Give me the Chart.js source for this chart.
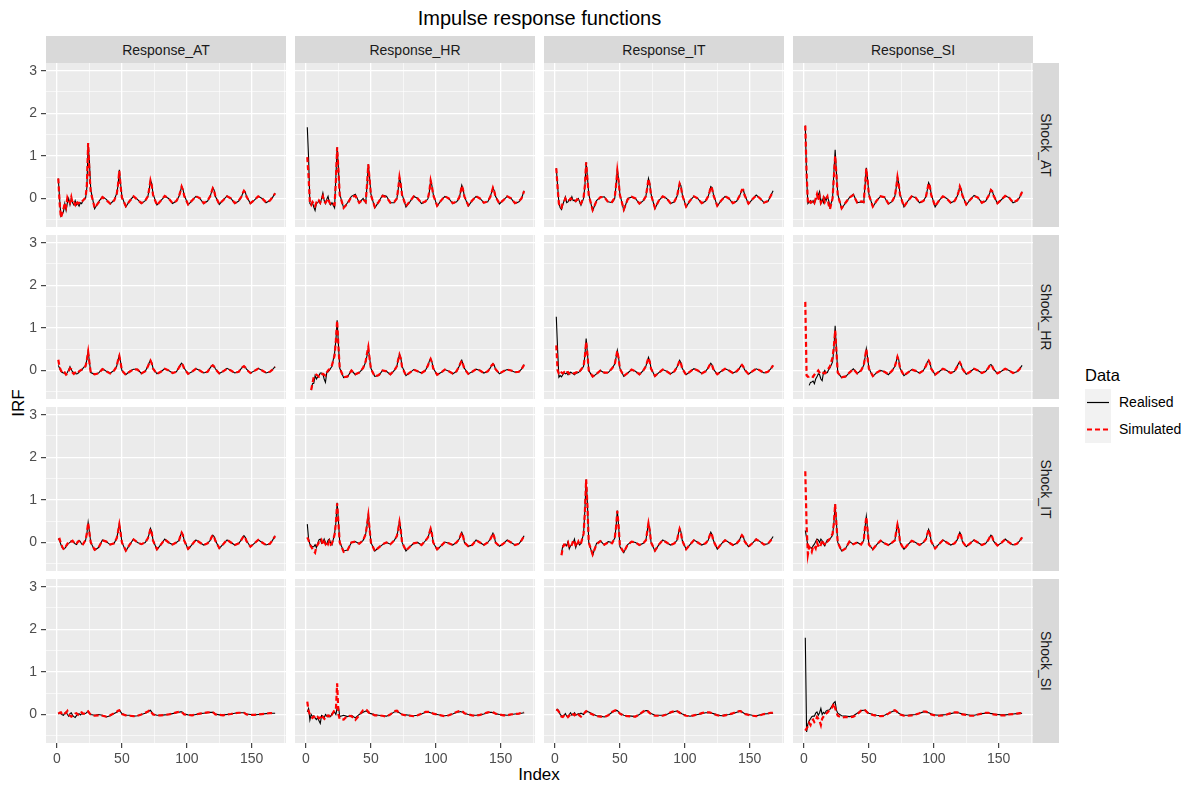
<!DOCTYPE html>
<html lang="en">
<head>
<meta charset="UTF-8">
<title>Impulse response functions</title>
<script src="https://cdn.jsdelivr.net/npm/chart.js"></script>
<style>
  body { margin:0; background:#fff; font-family:"Liberation Sans", Arial, sans-serif; }
  #page { position:relative; width:1187px; height:787px; overflow:hidden; }
  #page canvas { position:absolute; }
  .strip { position:absolute; background:#D9D9D9; color:#1A1A1A; font-size:14px;
           display:flex; align-items:center; justify-content:center; }
  .strip.side span { transform:rotate(90deg); white-space:nowrap; }
  .txt { position:absolute; white-space:nowrap; color:#000; }
</style>
</head>
<body>
<div id="page">
  <div class="txt" style="left:46px;width:987px;top:5px;line-height:26px;font-size:20px;text-align:center;">Impulse response functions</div>
  <div class="txt" style="left:-11px;top:393px;width:60px;height:20px;line-height:20px;font-size:17px;text-align:center;transform:rotate(-90deg);">IRF</div>
  <div class="txt" style="left:439px;top:765px;width:200px;line-height:20px;font-size:17px;text-align:center;">Index</div>

  <div class="txt" style="left:1085px;top:364px;line-height:22px;font-size:16.5px;">Data</div>
  <svg style="position:absolute;left:1085px;top:389px;" width="26" height="54">
    <rect x="0" y="0" width="26" height="54" fill="#F2F2F2"/>
    <line x1="2" y1="13.5" x2="24" y2="13.5" stroke="#000" stroke-width="1.2"/>
    <line x1="2" y1="40.5" x2="24" y2="40.5" stroke="#FF0000" stroke-width="2.2" stroke-dasharray="5 3"/>
  </svg>
  <div class="txt" style="left:1119px;top:393px;line-height:18px;font-size:14px;">Realised</div>
  <div class="txt" style="left:1119px;top:420px;line-height:18px;font-size:14px;">Simulated</div>
</div>

<script>
// index positions where each IRF is sampled (hours after the shock)
const index_steps = [
  1,2,3,4,5,6,7,8,9,10,11,12,13,14,15,16,17,18,19,20,
  22,23,24,25,26,29,32,35,38,41,44,
  46,47,48,49,50,53,56,59,62,65,68,
  70,71,72,73,74,77,80,83,86,89,92,
  94,95,96,97,98,101,104,107,110,113,116,
  118,119,120,121,122,125,128,131,134,137,140,
  142,143,144,145,146,149,152,155,158,161,164,
  166,168
];

const responses = ['Response_AT', 'Response_HR', 'Response_IT', 'Response_SI'];
const shocks = ['Shock_AT', 'Shock_HR', 'Shock_IT', 'Shock_SI'];

const y_ticks = [-0.5, 0, 0.5, 1, 1.5, 2, 2.5, 3];
const x_ticks = [0, 25, 50, 75, 100, 125, 150, 175];

// series naming: <realised|simulated>_<shock>_<response>

// ---- Shock_AT ----
const realised_AT_AT = [
  0.47,0.0,-0.42,-0.38,-0.3,-0.12,-0.28,-0.1,0.0,-0.15,0.0,-0.1,-0.15,-0.05,-0.15,-0.12,-0.18,-0.1,-0.12,-0.05,
  0.0,0.25,1.3,0.85,0.2,-0.24,-0.08,0.04,-0.02,-0.13,-0.04,
  0.12,0.3,0.67,0.35,0.05,-0.2,-0.05,0.05,-0.02,-0.12,-0.05,
  0.05,0.2,0.43,0.35,0.1,-0.15,-0.05,0.05,0.0,-0.12,-0.06,
  0.05,0.15,0.29,0.22,0.08,-0.15,-0.05,0.05,0.0,-0.12,-0.06,
  0.05,0.15,0.25,0.2,0.05,-0.14,-0.04,0.06,0.0,-0.12,-0.06,
  0.03,0.12,0.18,0.15,0.05,-0.12,-0.04,0.05,0.0,-0.1,-0.05,
  0.02,0.13
];
const simulated_AT_AT = [
  0.47,-0.1,-0.45,-0.35,-0.25,-0.1,-0.2,0.02,-0.05,-0.1,0.03,-0.12,-0.1,-0.15,-0.05,-0.12,-0.1,-0.12,-0.08,-0.05,
  0.02,0.3,1.3,0.6,0.15,-0.22,-0.1,0.03,-0.04,-0.12,-0.05,
  0.1,0.32,0.65,0.3,0.02,-0.18,-0.06,0.05,-0.03,-0.11,-0.05,
  0.05,0.22,0.42,0.3,0.08,-0.16,-0.05,0.06,0.0,-0.11,-0.06,
  0.06,0.16,0.28,0.2,0.06,-0.14,-0.05,0.05,0.01,-0.11,-0.05,
  0.05,0.15,0.24,0.18,0.05,-0.13,-0.04,0.05,0.0,-0.11,-0.05,
  0.04,0.12,0.18,0.14,0.04,-0.11,-0.04,0.05,0.0,-0.09,-0.05,
  0.03,0.12
];
const realised_AT_HR = [
  1.67,0.95,-0.12,-0.15,-0.1,-0.2,-0.28,-0.12,-0.1,-0.05,-0.12,0.0,0.13,-0.05,-0.12,-0.02,0.05,-0.1,-0.15,-0.1,
  -0.22,0.5,1.2,0.7,0.1,-0.22,-0.1,0.05,0.1,-0.1,0.0,
  -0.1,0.3,0.8,0.5,0.1,-0.22,-0.08,0.08,0.05,-0.1,-0.1,
  0.0,0.2,0.5,0.35,0.1,-0.2,-0.08,0.05,0.0,-0.12,-0.08,
  0.0,0.15,0.43,0.3,0.1,-0.18,-0.05,0.05,0.0,-0.12,-0.08,
  0.0,0.15,0.31,0.22,0.05,-0.18,-0.05,0.05,0.0,-0.1,-0.08,
  0.05,0.15,0.25,0.18,0.05,-0.13,-0.04,0.05,0.0,-0.12,-0.08,
  0.0,0.18
];
const simulated_AT_HR = [
  0.97,0.5,-0.1,-0.15,-0.08,-0.12,-0.18,-0.1,-0.12,-0.05,-0.1,-0.02,0.05,-0.08,-0.1,-0.05,0.0,-0.08,-0.15,-0.12,
  -0.15,0.4,1.2,0.65,0.08,-0.22,-0.12,0.04,0.06,-0.1,-0.02,
  -0.08,0.32,0.8,0.45,0.08,-0.2,-0.08,0.06,0.03,-0.1,-0.08,
  0.0,0.22,0.5,0.32,0.08,-0.18,-0.07,0.05,0.0,-0.11,-0.07,
  0.02,0.16,0.42,0.28,0.08,-0.17,-0.05,0.05,0.0,-0.11,-0.07,
  0.02,0.14,0.3,0.2,0.05,-0.16,-0.05,0.05,0.0,-0.1,-0.07,
  0.04,0.14,0.25,0.17,0.04,-0.12,-0.04,0.05,0.0,-0.11,-0.07,
  0.0,0.17
];
const realised_AT_IT = [
  0.71,0.3,-0.1,-0.22,-0.26,-0.15,-0.05,0.04,-0.1,-0.08,-0.02,-0.05,0.04,-0.05,-0.04,-0.08,-0.03,0.0,-0.08,-0.16,
  0.0,0.28,0.85,0.5,0.1,-0.29,-0.05,0.03,0.04,-0.08,-0.1,
  0.0,0.3,0.67,0.45,0.1,-0.28,0.0,0.03,0.0,-0.13,-0.05,
  0.05,0.25,0.47,0.35,0.1,-0.24,-0.05,0.05,0.0,-0.12,-0.08,
  0.05,0.2,0.35,0.3,0.1,-0.2,-0.05,0.05,0.0,-0.12,-0.06,
  0.05,0.15,0.28,0.25,0.1,-0.18,-0.05,0.05,0.0,-0.12,-0.06,
  0.05,0.12,0.2,0.21,0.1,-0.13,-0.02,0.08,0.0,-0.1,-0.07,
  0.05,0.18
];
const simulated_AT_IT = [
  0.71,0.25,-0.12,-0.2,-0.22,-0.1,-0.08,0.0,-0.06,-0.05,-0.04,0.0,-0.02,-0.06,-0.05,-0.06,-0.02,-0.04,-0.1,-0.12,
  0.02,0.3,0.85,0.45,0.08,-0.27,-0.06,0.03,0.03,-0.09,-0.08,
  0.02,0.3,0.65,0.4,0.08,-0.26,-0.02,0.04,0.0,-0.12,-0.05,
  0.05,0.24,0.46,0.32,0.08,-0.22,-0.05,0.05,0.0,-0.11,-0.07,
  0.05,0.2,0.35,0.28,0.08,-0.19,-0.05,0.05,0.0,-0.11,-0.06,
  0.05,0.15,0.28,0.23,0.08,-0.17,-0.05,0.05,0.0,-0.11,-0.06,
  0.05,0.12,0.2,0.2,0.08,-0.12,-0.02,0.07,0.0,-0.1,-0.06,
  0.05,0.17
];
const realised_AT_SI = [
  1.71,0.5,-0.12,-0.08,-0.05,-0.1,-0.05,-0.12,-0.02,0.0,0.08,0.16,-0.12,-0.02,-0.1,0.02,-0.05,0.05,-0.05,-0.2,
  0.0,0.6,1.14,0.6,0.1,-0.24,-0.1,0.02,0.1,-0.1,-0.08,
  -0.1,0.3,0.72,0.45,0.1,-0.2,-0.05,0.05,0.03,-0.13,-0.07,
  0.05,0.25,0.51,0.35,0.1,-0.2,-0.06,0.05,0.02,-0.1,-0.06,
  0.05,0.2,0.37,0.3,0.1,-0.2,-0.05,0.05,0.0,-0.1,-0.06,
  0.05,0.15,0.29,0.22,0.08,-0.15,-0.03,0.07,0.02,-0.1,-0.06,
  0.05,0.12,0.21,0.18,0.08,-0.12,-0.03,0.06,0.02,-0.1,-0.06,
  0.02,0.16
];
const simulated_AT_SI = [
  1.71,0.6,-0.1,-0.05,-0.1,-0.08,-0.05,-0.1,0.0,0.1,-0.05,0.05,-0.1,-0.05,0.02,-0.08,0.0,0.05,-0.15,-0.25,
  0.0,0.5,1.0,0.55,0.08,-0.23,-0.1,0.02,0.08,-0.1,-0.07,
  -0.08,0.3,0.7,0.42,0.08,-0.19,-0.05,0.05,0.03,-0.12,-0.06,
  0.05,0.25,0.5,0.32,0.08,-0.19,-0.06,0.05,0.02,-0.1,-0.06,
  0.05,0.2,0.36,0.28,0.08,-0.18,-0.05,0.05,0.0,-0.1,-0.06,
  0.05,0.15,0.28,0.2,0.07,-0.14,-0.03,0.06,0.02,-0.1,-0.05,
  0.05,0.12,0.2,0.17,0.07,-0.11,-0.03,0.06,0.02,-0.09,-0.05,
  0.02,0.15
];

// ---- Shock_HR ----
const realised_HR_AT = [
  0.12,0.05,-0.02,-0.05,-0.06,-0.07,-0.09,-0.05,0.02,0.09,0.02,-0.03,-0.05,-0.07,-0.08,-0.07,-0.04,0.0,0.0,0.05,
  0.12,0.25,0.45,0.2,-0.05,-0.09,-0.06,0.04,-0.02,-0.06,0.0,
  0.1,0.25,0.35,0.2,0.0,-0.1,-0.02,0.03,0.03,-0.07,-0.02,
  0.1,0.18,0.24,0.18,0.05,-0.08,-0.03,0.04,0.0,-0.06,-0.03,
  0.08,0.13,0.17,0.13,0.05,-0.08,-0.03,0.04,0.0,-0.06,-0.03,
  0.06,0.1,0.13,0.1,0.04,-0.07,-0.02,0.05,0.0,-0.06,-0.03,
  0.05,0.08,0.1,0.08,0.03,-0.06,-0.01,0.05,0.0,-0.06,-0.03,
  0.02,0.09
];
const simulated_HR_AT = [
  0.25,0.08,0.0,-0.04,-0.08,-0.05,-0.1,-0.08,-0.02,0.05,0.03,-0.05,-0.08,-0.05,-0.07,-0.06,-0.02,0.0,0.02,0.04,
  0.1,0.25,0.44,0.18,-0.05,-0.09,-0.07,0.03,-0.02,-0.07,0.0,
  0.1,0.24,0.34,0.18,0.0,-0.1,-0.03,0.03,0.02,-0.07,-0.02,
  0.09,0.17,0.23,0.16,0.04,-0.08,-0.03,0.04,0.0,-0.06,-0.03,
  0.07,0.12,0.16,0.12,0.04,-0.08,-0.03,0.04,0.0,-0.06,-0.03,
  0.06,0.1,0.12,0.09,0.03,-0.07,-0.02,0.04,0.0,-0.06,-0.03,
  0.05,0.08,0.1,0.07,0.02,-0.06,-0.01,0.04,0.0,-0.05,-0.03,
  0.02,0.08
];
const realised_HR_HR = [
  null,null,null,-0.46,-0.31,-0.3,-0.12,-0.2,-0.15,-0.12,-0.06,-0.06,-0.08,-0.2,-0.28,-0.05,-0.03,0.0,0.05,0.1,
  0.4,0.7,1.18,0.6,0.05,-0.17,-0.15,0.0,-0.1,-0.05,0.05,
  0.2,0.35,0.51,0.3,0.05,-0.14,-0.12,0.0,-0.02,-0.1,0.0,
  0.1,0.25,0.38,0.3,0.1,-0.12,-0.05,0.02,-0.02,-0.06,0.0,
  0.12,0.22,0.28,0.2,0.05,-0.1,-0.05,0.02,-0.02,-0.08,-0.02,
  0.1,0.18,0.24,0.15,0.05,-0.08,-0.03,0.03,0.0,-0.06,-0.02,
  0.06,0.12,0.16,0.12,0.03,-0.08,-0.02,0.02,0.0,-0.04,-0.03,
  0.03,0.14
];
const simulated_HR_HR = [
  null,null,null,-0.46,-0.3,-0.15,-0.14,-0.1,-0.12,-0.15,-0.15,-0.1,-0.08,-0.1,-0.12,-0.05,0.0,0.03,0.08,0.12,
  0.35,0.7,1.17,0.55,0.05,-0.16,-0.14,0.0,-0.09,-0.05,0.06,
  0.22,0.4,0.55,0.28,0.04,-0.14,-0.11,0.0,-0.02,-0.09,0.0,
  0.1,0.25,0.37,0.28,0.08,-0.12,-0.05,0.02,-0.02,-0.06,0.0,
  0.12,0.21,0.27,0.19,0.05,-0.1,-0.05,0.02,-0.02,-0.07,-0.02,
  0.1,0.17,0.23,0.14,0.04,-0.08,-0.03,0.03,0.0,-0.06,-0.02,
  0.06,0.12,0.15,0.11,0.03,-0.07,-0.02,0.02,0.0,-0.04,-0.03,
  0.03,0.13
];
const realised_HR_IT = [
  1.26,0.5,-0.16,-0.12,-0.15,-0.1,-0.05,-0.08,-0.06,-0.1,-0.05,-0.04,-0.06,-0.08,-0.1,-0.07,-0.06,-0.05,-0.02,0.0,
  0.1,0.35,0.75,0.4,0.0,-0.15,-0.08,0.0,-0.06,-0.05,0.05,
  0.15,0.3,0.47,0.3,0.05,-0.14,-0.06,0.02,-0.02,-0.1,0.0,
  0.1,0.2,0.31,0.22,0.05,-0.14,-0.05,0.02,-0.02,-0.08,-0.02,
  0.08,0.16,0.24,0.18,0.05,-0.1,-0.03,0.04,0.0,-0.07,-0.02,
  0.06,0.12,0.17,0.13,0.03,-0.09,-0.02,0.04,0.0,-0.06,-0.02,
  0.05,0.1,0.13,0.1,0.02,-0.09,-0.02,0.04,0.0,-0.06,-0.03,
  0.03,0.12
];
const simulated_HR_IT = [
  0.59,0.0,-0.08,-0.1,-0.05,-0.07,-0.04,-0.08,-0.05,-0.04,-0.08,-0.06,-0.04,-0.06,-0.07,-0.05,-0.04,-0.06,-0.02,0.02,
  0.1,0.32,0.67,0.38,0.0,-0.14,-0.08,0.0,-0.05,-0.05,0.05,
  0.14,0.3,0.46,0.28,0.04,-0.13,-0.06,0.02,-0.02,-0.09,0.0,
  0.1,0.2,0.3,0.2,0.04,-0.13,-0.05,0.02,-0.02,-0.08,-0.02,
  0.08,0.15,0.23,0.17,0.04,-0.1,-0.03,0.04,0.0,-0.07,-0.02,
  0.06,0.12,0.16,0.12,0.03,-0.09,-0.02,0.04,0.0,-0.06,-0.02,
  0.05,0.1,0.13,0.09,0.02,-0.08,-0.02,0.04,0.0,-0.06,-0.03,
  0.03,0.12
];
const realised_HR_SI = [
  null,null,null,-0.35,-0.28,-0.27,-0.25,-0.31,-0.2,-0.15,-0.08,-0.1,-0.2,-0.24,-0.05,0.0,-0.06,-0.05,0.02,0.06,
  0.2,0.5,1.05,0.5,-0.05,-0.17,-0.15,-0.05,0.04,-0.07,0.0,
  0.12,0.3,0.51,0.3,0.05,-0.14,-0.05,0.0,-0.03,-0.1,0.0,
  0.1,0.2,0.33,0.25,0.05,-0.12,-0.05,0.02,-0.01,-0.06,0.0,
  0.12,0.2,0.24,0.18,0.05,-0.1,-0.03,0.04,0.0,-0.06,-0.02,
  0.1,0.16,0.2,0.14,0.04,-0.09,-0.03,0.04,0.0,-0.06,-0.02,
  0.06,0.12,0.14,0.1,0.03,-0.07,-0.02,0.04,0.0,-0.06,-0.03,
  0.03,0.12
];
const simulated_HR_SI = [
  1.61,-0.12,-0.15,-0.14,-0.12,-0.14,-0.15,-0.1,-0.06,-0.04,0.0,-0.05,-0.08,-0.05,-0.06,-0.07,-0.03,0.02,0.05,0.1,
  0.3,0.55,0.94,0.45,-0.05,-0.16,-0.14,-0.05,0.03,-0.07,0.0,
  0.12,0.3,0.5,0.28,0.04,-0.13,-0.05,0.0,-0.03,-0.09,0.0,
  0.1,0.2,0.32,0.23,0.05,-0.12,-0.05,0.02,-0.01,-0.06,0.0,
  0.11,0.19,0.23,0.17,0.04,-0.1,-0.03,0.04,0.0,-0.06,-0.02,
  0.09,0.15,0.19,0.13,0.04,-0.09,-0.03,0.04,0.0,-0.06,-0.02,
  0.06,0.11,0.14,0.1,0.03,-0.07,-0.02,0.04,0.0,-0.06,-0.03,
  0.03,0.12
];

// ---- Shock_IT ----
const realised_IT_AT = [
  0.09,0.05,-0.05,-0.12,-0.16,-0.14,-0.1,-0.05,-0.02,0.0,0.04,0.02,0.0,-0.03,-0.05,0.0,0.05,0.02,-0.04,-0.05,
  0.05,0.2,0.47,0.25,0.0,-0.18,-0.12,0.06,0.02,-0.05,-0.02,
  0.1,0.25,0.43,0.25,0.0,-0.2,-0.05,0.08,0.0,-0.04,0.0,
  0.1,0.2,0.33,0.25,0.05,-0.17,-0.05,0.08,0.0,-0.05,0.0,
  0.05,0.15,0.24,0.18,0.05,-0.16,-0.05,0.06,0.0,-0.06,-0.02,
  0.05,0.12,0.17,0.14,0.05,-0.14,-0.04,0.06,0.0,-0.06,-0.02,
  0.06,0.12,0.16,0.12,0.04,-0.1,-0.02,0.06,0.0,-0.06,-0.03,
  0.05,0.16
];
const simulated_IT_AT = [
  0.06,0.08,-0.02,-0.1,-0.15,-0.16,-0.08,-0.03,0.02,0.03,0.02,0.04,0.0,-0.02,-0.04,0.02,0.03,0.0,-0.02,-0.04,
  0.05,0.22,0.46,0.22,0.0,-0.17,-0.12,0.05,0.02,-0.05,-0.02,
  0.1,0.25,0.42,0.22,0.0,-0.19,-0.05,0.07,0.0,-0.04,0.0,
  0.1,0.2,0.32,0.22,0.04,-0.16,-0.05,0.07,0.0,-0.05,0.0,
  0.05,0.15,0.23,0.17,0.04,-0.15,-0.05,0.06,0.0,-0.06,-0.02,
  0.05,0.12,0.17,0.13,0.04,-0.13,-0.04,0.06,0.0,-0.06,-0.02,
  0.06,0.11,0.15,0.11,0.03,-0.1,-0.02,0.06,0.0,-0.06,-0.03,
  0.05,0.15
];
const realised_IT_HR = [
  0.43,0.08,-0.04,-0.08,-0.1,-0.1,-0.05,-0.12,-0.02,0.06,0.08,-0.02,0.0,0.08,0.0,-0.04,0.05,0.08,-0.02,-0.06,
  0.2,0.45,0.93,0.5,0.0,-0.2,-0.18,0.0,0.02,-0.03,0.05,
  0.2,0.4,0.65,0.35,0.0,-0.2,-0.12,-0.05,0.0,-0.04,0.05,
  0.15,0.3,0.49,0.3,0.0,-0.2,-0.1,-0.02,0.0,-0.06,0.04,
  0.12,0.22,0.33,0.22,0.0,-0.17,-0.08,0.01,-0.02,-0.06,0.0,
  0.08,0.16,0.24,0.16,0.0,-0.09,-0.06,0.06,0.0,-0.06,0.0,
  0.08,0.15,0.22,0.14,0.0,-0.09,-0.03,0.06,0.0,-0.06,-0.03,
  0.05,0.16
];
const simulated_IT_HR = [
  0.12,0.05,-0.05,-0.1,-0.15,-0.2,-0.24,-0.1,-0.05,0.0,-0.02,0.05,-0.05,0.02,-0.04,0.02,-0.04,0.03,-0.05,-0.02,
  0.18,0.45,0.92,0.45,0.0,-0.22,-0.18,0.0,0.02,-0.03,0.05,
  0.2,0.42,0.64,0.32,0.0,-0.2,-0.12,-0.04,0.0,-0.04,0.05,
  0.15,0.3,0.48,0.28,0.0,-0.19,-0.1,-0.02,0.0,-0.06,0.04,
  0.12,0.22,0.32,0.2,0.0,-0.16,-0.08,0.01,-0.02,-0.06,0.0,
  0.08,0.16,0.23,0.15,0.0,-0.09,-0.06,0.05,0.0,-0.06,0.0,
  0.08,0.14,0.21,0.13,0.0,-0.09,-0.03,0.05,0.0,-0.06,-0.03,
  0.05,0.15
];
const realised_IT_IT = [
  null,null,null,null,-0.25,-0.08,-0.05,-0.04,-0.08,0.02,-0.15,-0.08,-0.06,0.0,0.08,-0.12,-0.02,0.0,-0.06,-0.02,
  0.2,0.75,1.48,0.9,0.0,-0.3,-0.02,0.04,-0.06,0.02,0.0,
  0.1,0.35,0.75,0.4,-0.1,-0.24,-0.05,0.02,0.0,-0.06,-0.02,
  0.05,0.25,0.46,0.3,0.0,-0.2,-0.05,0.06,0.0,-0.06,-0.02,
  0.05,0.2,0.33,0.25,0.05,-0.16,-0.05,0.06,0.0,-0.06,-0.02,
  0.05,0.15,0.24,0.18,0.05,-0.16,-0.04,0.06,0.0,-0.06,-0.02,
  0.05,0.12,0.17,0.14,0.04,-0.1,-0.02,0.08,0.02,-0.05,-0.03,
  0.04,0.14
];
const simulated_IT_IT = [
  null,null,null,null,-0.3,-0.12,-0.05,-0.06,-0.04,0.0,-0.12,-0.1,-0.05,0.04,0.05,-0.1,-0.05,0.02,-0.05,-0.02,
  0.2,0.7,1.48,0.85,0.0,-0.28,-0.04,0.03,-0.05,0.0,-0.02,
  0.1,0.35,0.74,0.38,-0.08,-0.23,-0.05,0.02,0.0,-0.06,-0.02,
  0.05,0.25,0.45,0.28,0.0,-0.19,-0.05,0.05,0.0,-0.06,-0.02,
  0.05,0.2,0.32,0.23,0.04,-0.16,-0.05,0.05,0.0,-0.06,-0.02,
  0.05,0.15,0.23,0.17,0.04,-0.15,-0.04,0.05,0.0,-0.06,-0.02,
  0.05,0.12,0.17,0.13,0.03,-0.1,-0.02,0.07,0.02,-0.05,-0.03,
  0.04,0.13
];
const realised_IT_SI = [
  0.28,0.1,-0.08,-0.1,-0.12,-0.14,-0.08,-0.04,0.02,0.08,0.06,0.0,0.08,0.04,-0.04,-0.08,0.0,0.06,0.04,0.08,
  0.17,0.45,0.9,0.45,0.0,-0.2,-0.14,0.02,-0.04,0.0,-0.05,
  0.05,0.35,0.61,0.3,-0.05,-0.16,-0.05,0.04,-0.02,-0.06,0.0,
  0.05,0.25,0.43,0.3,0.0,-0.16,-0.05,0.04,0.0,-0.06,0.0,
  0.08,0.2,0.31,0.22,0.02,-0.14,-0.04,0.06,0.0,-0.06,-0.02,
  0.06,0.15,0.24,0.17,0.02,-0.1,-0.02,0.06,0.0,-0.06,-0.02,
  0.06,0.12,0.17,0.14,0.03,-0.07,-0.01,0.08,0.0,-0.06,-0.03,
  0.03,0.12
];
const simulated_IT_SI = [
  1.67,0.4,-0.28,-0.1,-0.15,-0.22,-0.1,-0.08,-0.14,0.0,-0.08,-0.12,-0.05,0.06,-0.02,-0.04,0.04,0.02,0.05,0.1,
  0.2,0.45,0.9,0.42,0.0,-0.2,-0.14,0.02,-0.04,0.0,-0.05,
  0.05,0.35,0.6,0.28,-0.05,-0.16,-0.05,0.04,-0.02,-0.06,0.0,
  0.05,0.25,0.42,0.28,0.0,-0.16,-0.05,0.04,0.0,-0.06,0.0,
  0.08,0.2,0.3,0.2,0.02,-0.14,-0.04,0.05,0.0,-0.06,-0.02,
  0.06,0.15,0.23,0.16,0.02,-0.1,-0.02,0.05,0.0,-0.06,-0.02,
  0.06,0.12,0.17,0.13,0.03,-0.07,-0.01,0.07,0.0,-0.06,-0.03,
  0.03,0.12
];

// ---- Shock_SI ----
const realised_SI_AT = [
  0.01,0.03,0.02,-0.01,-0.02,0.03,0.06,0.0,-0.04,0.02,0.04,-0.02,-0.05,-0.07,-0.03,0.0,0.02,-0.01,0.02,0.01,
  0.02,0.05,0.08,0.04,0.0,-0.02,0.0,-0.02,-0.06,-0.03,0.02,
  0.05,0.08,0.1,0.06,0.02,-0.02,-0.02,-0.04,-0.03,0.0,0.03,
  0.06,0.08,0.1,0.05,0.01,-0.02,-0.02,-0.01,0.0,0.02,0.04,
  0.05,0.06,0.06,0.04,0.01,-0.01,-0.02,0.0,0.02,0.03,0.04,
  0.05,0.05,0.05,0.03,0.01,-0.01,-0.01,0.0,0.01,0.03,0.04,
  0.04,0.04,0.04,0.03,0.01,0.0,-0.01,0.0,0.01,0.02,0.03,
  0.03,0.03
];
const simulated_SI_AT = [
  0.02,0.04,0.05,0.0,-0.01,0.02,0.04,0.08,0.0,-0.03,-0.05,-0.03,-0.02,0.02,0.03,0.0,-0.02,0.03,0.05,0.02,
  0.02,0.04,0.07,0.03,0.0,-0.03,-0.02,-0.03,-0.05,-0.02,0.03,
  0.06,0.09,0.1,0.05,0.01,-0.02,-0.03,-0.04,-0.03,0.0,0.04,
  0.07,0.09,0.09,0.04,0.0,-0.02,-0.02,-0.01,0.0,0.02,0.05,
  0.06,0.06,0.05,0.03,0.0,-0.01,-0.02,0.0,0.02,0.03,0.05,
  0.05,0.05,0.05,0.03,0.0,-0.01,-0.02,0.0,0.01,0.03,0.04,
  0.04,0.04,0.04,0.02,0.0,-0.01,-0.01,0.0,0.01,0.02,0.03,
  0.03,0.04
];
const realised_SI_HR = [
  0.06,0.14,-0.13,0.0,-0.05,-0.03,-0.08,-0.12,-0.08,-0.15,-0.21,-0.02,-0.04,-0.08,0.0,-0.03,-0.06,-0.02,-0.05,0.02,
  0.05,0.0,0.15,0.18,-0.05,-0.02,-0.05,-0.02,-0.08,0.0,0.05,
  0.08,0.07,0.05,0.03,0.02,-0.01,-0.02,-0.03,-0.04,0.0,0.06,
  0.07,0.05,0.04,0.02,0.0,-0.01,-0.02,-0.03,-0.02,0.01,0.05,
  0.05,0.05,0.04,0.03,0.02,0.0,-0.02,-0.03,-0.02,0.01,0.05,
  0.06,0.07,0.06,0.05,0.03,0.0,-0.02,-0.02,-0.01,0.01,0.04,
  0.05,0.05,0.04,0.03,0.02,0.0,-0.01,-0.02,0.0,0.01,0.02,
  0.03,0.04
];
const simulated_SI_HR = [
  0.3,0.08,0.0,-0.05,-0.08,-0.05,-0.08,-0.1,-0.06,-0.09,-0.07,-0.12,-0.06,-0.1,-0.12,-0.05,-0.02,-0.04,0.02,0.0,
  0.1,0.1,0.73,0.0,-0.11,-0.12,-0.03,-0.04,-0.13,-0.02,0.1,
  0.12,0.1,0.06,0.03,0.02,-0.02,-0.02,-0.03,-0.05,0.0,0.08,
  0.09,0.06,0.04,0.02,0.0,-0.02,-0.03,-0.04,-0.02,0.02,0.06,
  0.06,0.06,0.05,0.04,0.02,0.0,-0.02,-0.04,-0.02,0.02,0.06,
  0.08,0.09,0.08,0.06,0.03,0.0,-0.02,-0.03,-0.01,0.02,0.05,
  0.06,0.06,0.05,0.04,0.02,0.0,-0.02,-0.02,0.0,0.01,0.02,
  0.04,0.05
];
const realised_SI_IT = [
  0.1,0.12,0.08,0.0,-0.03,-0.04,-0.02,0.02,-0.04,-0.05,0.0,0.04,-0.02,0.0,0.04,-0.02,0.0,0.02,0.01,0.03,
  0.0,0.04,0.06,0.07,0.06,0.01,-0.03,-0.04,-0.06,-0.02,0.05,
  0.08,0.09,0.09,0.06,0.03,-0.02,-0.03,-0.04,-0.05,0.0,0.06,
  0.09,0.09,0.07,0.04,0.02,-0.02,-0.02,-0.02,0.0,0.04,0.07,
  0.08,0.07,0.05,0.03,0.01,-0.02,-0.04,-0.02,0.0,0.02,0.04,
  0.04,0.04,0.04,0.03,0.02,-0.01,-0.03,-0.01,0.0,0.02,0.05,
  0.07,0.08,0.06,0.04,0.02,0.0,-0.02,-0.03,-0.01,0.01,0.02,
  0.03,0.03
];
const simulated_SI_IT = [
  0.12,0.1,0.06,0.02,-0.05,-0.06,-0.03,-0.05,-0.02,-0.06,-0.03,0.02,0.03,0.0,-0.02,0.02,0.04,0.0,-0.03,-0.05,
  0.0,0.05,0.08,0.06,0.04,0.0,-0.04,-0.05,-0.06,-0.02,0.06,
  0.09,0.1,0.08,0.05,0.02,-0.03,-0.04,-0.05,-0.05,0.0,0.07,
  0.1,0.09,0.06,0.03,0.01,-0.03,-0.03,-0.03,0.0,0.05,0.08,
  0.08,0.06,0.04,0.02,0.0,-0.03,-0.04,-0.02,0.0,0.03,0.05,
  0.05,0.05,0.04,0.02,0.01,-0.02,-0.04,-0.02,0.0,0.03,0.06,
  0.08,0.08,0.05,0.03,0.01,-0.01,-0.03,-0.04,-0.02,0.01,0.02,
  0.04,0.04
];
const realised_SI_SI = [
  1.8,-0.41,-0.22,-0.15,-0.1,-0.05,-0.04,-0.04,0.03,0.06,-0.02,0.04,0.14,0.0,0.05,0.02,0.08,0.1,0.1,0.12,
  0.22,0.27,0.3,0.1,0.03,-0.03,-0.04,-0.05,-0.03,0.03,0.09,
  0.1,0.1,0.08,0.05,0.03,0.0,-0.02,-0.03,-0.02,0.02,0.07,
  0.09,0.08,0.05,0.03,0.01,-0.02,-0.02,-0.01,0.0,0.03,0.06,
  0.06,0.05,0.04,0.03,0.01,-0.01,-0.02,-0.01,0.0,0.02,0.04,
  0.04,0.04,0.03,0.02,0.01,0.0,-0.02,-0.02,0.0,0.02,0.03,
  0.03,0.03,0.02,0.02,0.01,0.0,-0.01,-0.01,0.0,0.01,0.02,
  0.02,0.03
];
const simulated_SI_SI = [
  -0.38,-0.33,-0.28,-0.2,-0.25,-0.15,-0.12,-0.18,-0.16,-0.06,-0.1,-0.15,-0.25,-0.1,-0.05,0.0,0.02,0.04,0.08,0.1,
  0.18,0.26,0.15,0.05,-0.03,-0.07,-0.06,-0.07,-0.05,0.0,0.09,
  0.1,0.1,0.07,0.04,0.02,-0.01,-0.03,-0.04,-0.03,0.02,0.08,
  0.1,0.08,0.05,0.02,0.0,-0.03,-0.03,-0.02,0.0,0.03,0.07,
  0.07,0.05,0.04,0.02,0.0,-0.02,-0.03,-0.02,0.0,0.03,0.05,
  0.05,0.04,0.03,0.02,0.0,-0.01,-0.03,-0.03,0.0,0.02,0.04,
  0.04,0.03,0.02,0.01,0.0,-0.01,-0.02,-0.02,0.0,0.01,0.02,
  0.03,0.03
];

// rows = shocks, columns = responses
const grid_series = [
  [[realised_AT_AT, simulated_AT_AT], [realised_AT_HR, simulated_AT_HR], [realised_AT_IT, simulated_AT_IT], [realised_AT_SI, simulated_AT_SI]],
  [[realised_HR_AT, simulated_HR_AT], [realised_HR_HR, simulated_HR_HR], [realised_HR_IT, simulated_HR_IT], [realised_HR_SI, simulated_HR_SI]],
  [[realised_IT_AT, simulated_IT_AT], [realised_IT_HR, simulated_IT_HR], [realised_IT_IT, simulated_IT_IT], [realised_IT_SI, simulated_IT_SI]],
  [[realised_SI_AT, simulated_SI_AT], [realised_SI_HR, simulated_SI_HR], [realised_SI_IT, simulated_SI_IT], [realised_SI_SI, simulated_SI_SI]]
];

// facet geometry
const PANEL_LEFT = 46, PANEL_TOP = 63;
const PANEL_W = 240, PANEL_H = 164;
const STEP_X = 249, STEP_Y = 172;
const YAXIS_W = 46, XAXIS_H = 26;
const STRIP = 27, STRIP_SIDE = 26;
const X_MIN = -8.47, X_MAX = 176.4, Y_MIN = -0.67, Y_MAX = 3.18;
const FONT = '"Liberation Sans", Arial, sans-serif';

const page = document.getElementById('page');

function toPoints(values) {
  return index_steps.map((x, i) => ({ x: x, y: values[i] }));
}

// grey panel background behind the grid
const panelBg = {
  id: 'panelBg',
  beforeDraw(chart) {
    const a = chart.chartArea, ctx = chart.ctx;
    ctx.save();
    ctx.fillStyle = '#EBEBEB';
    ctx.fillRect(a.left, a.top, a.right - a.left, a.bottom - a.top);
    ctx.restore();
  }
};

function addStrip(text, left, top, w, h, side) {
  const d = document.createElement('div');
  d.className = side ? 'strip side' : 'strip';
  d.style.left = left + 'px';
  d.style.top = top + 'px';
  d.style.width = w + 'px';
  d.style.height = h + 'px';
  const s = document.createElement('span');
  s.textContent = text;
  d.appendChild(s);
  page.appendChild(d);
}

function makePanel(r, c) {
  const first = c === 0, bottom = r === 3;
  const [realised, simulated] = grid_series[r][c];
  const cv = document.createElement('canvas');
  cv.width = PANEL_W + (first ? YAXIS_W : 0);
  cv.height = PANEL_H + (bottom ? XAXIS_H : 0);
  cv.style.left = (PANEL_LEFT + c * STEP_X - (first ? YAXIS_W : 0)) + 'px';
  cv.style.top = (PANEL_TOP + r * STEP_Y) + 'px';
  page.appendChild(cv);

  new Chart(cv, {
    type: 'line',
    data: {
      datasets: [
        {
          label: 'Simulated', data: toPoints(simulated), order: 0,
          borderColor: '#FF0000', borderWidth: 2.2, borderDash: [5, 3]
        },
        {
          label: 'Realised', data: toPoints(realised), order: 1,
          borderColor: '#000000', borderWidth: 1.1
        }
      ]
    },
    options: {
      responsive: false,
      animation: false,
      events: [],
      parsing: false,
      layout: { padding: 0 },
      elements: { point: { radius: 0 }, line: { tension: 0 } },
      plugins: { legend: { display: false }, tooltip: { enabled: false } },
      scales: {
        x: {
          type: 'linear', min: X_MIN, max: X_MAX,
          afterBuildTicks: s => { s.ticks = x_ticks.map(v => ({ value: v })); },
          afterFit: s => { s.height = bottom ? XAXIS_H : 0; s.paddingLeft = 0; s.paddingRight = 0; },
          border: { display: false },
          grid: {
            color: '#FFFFFF',
            lineWidth: ctx => (ctx.tick && ctx.tick.value % 50 === 0) ? 1.3 : 0.6,
            drawTicks: bottom, tickLength: 5, tickWidth: 1.1,
            tickColor: ctx => (ctx.tick && ctx.tick.value % 50 === 0 && ctx.tick.value <= 150) ? '#333333' : 'rgba(0,0,0,0)'
          },
          ticks: {
            display: bottom, autoSkip: false, maxRotation: 0, padding: 3,
            color: '#4D4D4D', font: { family: FONT, size: 14 },
            callback: v => (v % 50 === 0 && v <= 150) ? String(v) : ''
          }
        },
        y: {
          type: 'linear', min: Y_MIN, max: Y_MAX,
          afterBuildTicks: s => { s.ticks = y_ticks.map(v => ({ value: v })); },
          afterFit: s => { s.width = first ? YAXIS_W : 0; s.paddingTop = 0; s.paddingBottom = 0; },
          border: { display: false },
          grid: {
            color: '#FFFFFF',
            lineWidth: ctx => (ctx.tick && Number.isInteger(ctx.tick.value)) ? 1.3 : 0.6,
            drawTicks: first, tickLength: 5, tickWidth: 1.1,
            tickColor: ctx => (ctx.tick && Number.isInteger(ctx.tick.value)) ? '#333333' : 'rgba(0,0,0,0)'
          },
          ticks: {
            display: first, autoSkip: false, padding: 4,
            color: '#4D4D4D', font: { family: FONT, size: 14 },
            callback: v => Number.isInteger(v) ? String(v) : ''
          }
        }
      }
    },
    plugins: [panelBg]
  });
}

responses.forEach((name, c) => addStrip(name, PANEL_LEFT + c * STEP_X, PANEL_TOP - STRIP, PANEL_W, STRIP, false));
shocks.forEach((name, r) => addStrip(name, PANEL_LEFT + 3 * STEP_X + PANEL_W, PANEL_TOP + r * STEP_Y, STRIP_SIDE, PANEL_H, true));

for (let r = 0; r < 4; r++) {
  for (let c = 0; c < 4; c++) makePanel(r, c);
}
</script>
</body>
</html>
